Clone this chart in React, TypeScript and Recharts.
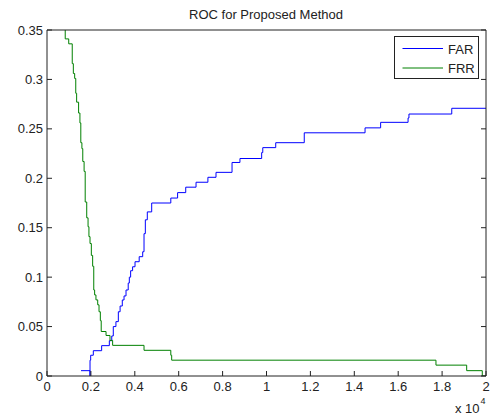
import React from 'react';
import { LineChart, Line, XAxis, YAxis, Legend } from 'recharts';

// FAR (blue) step points: x in units of 1e4, value after x
const farX = [0.155, 0.196, 0.196, 0.199, 0.211, 0.249, 0.284, 0.295, 0.302, 0.314, 0.325, 0.333, 0.343, 0.351, 0.36, 0.37, 0.375, 0.381, 0.39, 0.401, 0.42, 0.436, 0.442, 0.448, 0.457, 0.477, 0.564, 0.595, 0.632, 0.679, 0.733, 0.77, 0.843, 0.879, 0.978, 0.983, 1.042, 1.172, 1.449, 1.52, 1.645, 1.649, 1.844, 2.0];
const farY = [0.0054, 0, 0.016, 0.021, 0.0256, 0.0307, 0.0357, 0.0405, 0.05, 0.055, 0.065, 0.0708, 0.0769, 0.081, 0.087, 0.094, 0.1, 0.1065, 0.1105, 0.1156, 0.1207, 0.1257, 0.144, 0.158, 0.166, 0.175, 0.18, 0.1855, 0.191, 0.196, 0.201, 0.206, 0.216, 0.22, 0.226, 0.231, 0.236, 0.246, 0.251, 0.2566, 0.261, 0.265, 0.2708, 0.2708];

// FRR (green) step points
const frrX = [0.083, 0.083, 0.099, 0.115, 0.12, 0.126, 0.131, 0.135, 0.144, 0.15, 0.154, 0.159, 0.163, 0.169, 0.174, 0.181, 0.187, 0.191, 0.196, 0.202, 0.208, 0.213, 0.217, 0.223, 0.231, 0.237, 0.243, 0.247, 0.269, 0.287, 0.299, 0.442, 0.564, 0.568, 1.772, 1.912, 1.983, 2.0];
const frrY = [0.37, 0.341, 0.336, 0.316, 0.306, 0.301, 0.286, 0.277, 0.266, 0.256, 0.236, 0.23, 0.217, 0.207, 0.176, 0.16, 0.151, 0.141, 0.134, 0.122, 0.111, 0.087, 0.082, 0.077, 0.072, 0.065, 0.056, 0.045, 0.041, 0.036, 0.031, 0.026, 0.021, 0.016, 0.011, 0.0054, 0, 0];

const xTicks = [0, 0.2, 0.4, 0.6, 0.8, 1, 1.2, 1.4, 1.6, 1.8, 2];
const yTicks = [0, 0.05, 0.1, 0.15, 0.2, 0.25, 0.3, 0.35];
const seriesNames = ['FAR', 'FRR'];
const seriesColors = ['#0000ff', '#008000'];
const title = 'ROC for Proposed Method';

const farData = farX.map((x, i) => ({ x, y: farY[i] }));
const frrData = frrX.map((x, i) => ({ x, y: frrY[i] }));

const FONT = "'Liberation Sans', Arial, sans-serif";
const fmt = (v: number) => String(Number(v.toFixed(2)));
const blank = () => '';

const LegendBox = () => (
  <div style={{ width: 85, height: 43, border: '1px solid #222', background: '#fff', boxSizing: 'border-box' }}>
    <svg width={83} height={41} style={{ display: 'block' }}>
      {seriesNames.map((n, i) => (
        <g key={n}>
          <line x1={7.5} x2={48} y1={11.5 + i * 19.5} y2={11.5 + i * 19.5} stroke={seriesColors[i]} strokeWidth={1} />
          <text x={53} y={16.5 + i * 19.5} fontSize={13} fontFamily={FONT} fill="#222">{n}</text>
        </g>
      ))}
    </svg>
  </div>
);

export default function App() {
  return (
    <div style={{ position: 'absolute', left: 0, top: 0, width: 490, height: 419, background: '#fff' }}>
      <LineChart width={490} height={419} margin={{ top: 0, right: 0, bottom: 0, left: 0 }}>
        <XAxis
          xAxisId={0}
          dataKey="x"
          type="number"
          domain={[0, 2]}
          ticks={xTicks}
          tickFormatter={fmt}
          height={43}
          tickSize={-5}
          tickMargin={11}
          allowDataOverflow
          stroke="#222"
          tick={{ fill: '#222', fontSize: 13, fontFamily: FONT }}
          interval={0}
        />
        <XAxis
          xAxisId="top"
          orientation="top"
          type="number"
          domain={[0, 2]}
          ticks={xTicks}
          tickFormatter={blank}
          height={30}
          tickSize={-5}
          allowDataOverflow
          stroke="#222"
          interval={0}
        />
        <YAxis
          yAxisId={0}
          type="number"
          domain={[0, 0.35]}
          ticks={yTicks}
          tickFormatter={fmt}
          width={47}
          tickSize={-5}
          tickMargin={9}
          allowDataOverflow
          stroke="#222"
          tick={{ fill: '#222', fontSize: 13, fontFamily: FONT }}
          interval={0}
        />
        <YAxis
          yAxisId="right"
          orientation="right"
          type="number"
          domain={[0, 0.35]}
          ticks={yTicks}
          tickFormatter={blank}
          width={4}
          tickSize={-5}
          allowDataOverflow
          stroke="#222"
          interval={0}
        />
        <Legend
          layout="vertical"
          verticalAlign="middle"
          align="center"
          wrapperStyle={{ left: 394, top: 36, width: 85, height: 43 }}
          content={() => <LegendBox />}
        />
        <Line
          data={farData}
          dataKey="y"
          name={seriesNames[0]}
          type="stepAfter"
          stroke={seriesColors[0]}
          strokeWidth={1}
          dot={false}
          isAnimationActive={false}
        />
        <Line
          data={frrData}
          dataKey="y"
          name={seriesNames[1]}
          type="stepAfter"
          stroke={seriesColors[1]}
          strokeWidth={1}
          dot={false}
          isAnimationActive={false}
        />
      </LineChart>
      <svg width={490} height={419} style={{ position: 'absolute', left: 0, top: 0, pointerEvents: 'none' }}>
        <text x={266} y={19.3} textAnchor="middle" fontSize={13} fontFamily={FONT} fill="#222">{title}</text>
        <text x={455} y={413} fontSize={13} fontFamily={FONT} fill="#222">x 10</text>
        <text x={480.5} y={404} fontSize={9} fontFamily={FONT} fill="#222">4</text>
      </svg>
    </div>
  );
}
